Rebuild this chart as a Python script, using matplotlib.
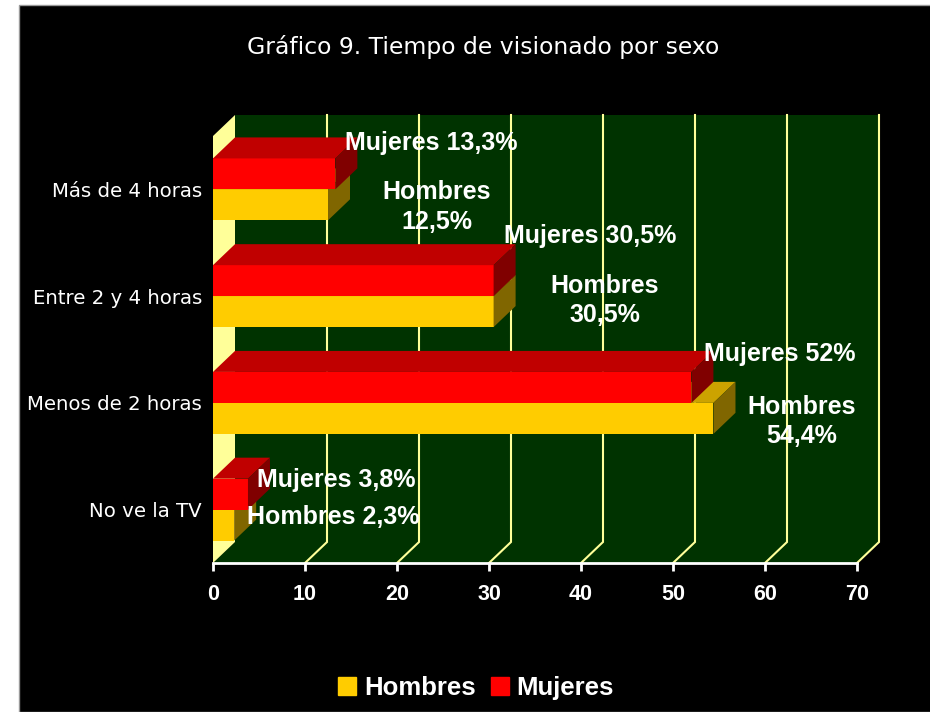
import matplotlib.pyplot as plt
import matplotlib.patches as mpatches
from matplotlib.patches import Polygon, Rectangle

# data (bottom to top)
categories = ["No ve la TV", "Menos de 2 horas", "Entre 2 y 4 horas", "Más de 4 horas"]
hombres = [2.3, 54.4, 30.5, 12.5]
mujeres = [3.8, 52, 30.5, 13.3]
lab_h = ["Hombres 2,3%", "Hombres\n54,4%", "Hombres\n30,5%", "Hombres\n12,5%"]
lab_m = ["Mujeres 3,8%", "Mujeres 52%", "Mujeres 30,5%", "Mujeres 13,3%"]
xticks = [0, 10, 20, 30, 40, 50, 60, 70]

# label offsets from bar end, pixels (x, y up)
off_h = [(99, 8), (88, -3), (111, 11), (109, -2)]
off_m = [(88, 14), (88, 33), (97, 45), (96, 31)]

yellow = ("#FFCC00", "#CCA300", "#806600")  # front, top, side
red = ("#FF0000", "#C00000", "#800000")
wall = "#003300"
grid = "#FFFF99"

fig = plt.figure(figsize=(9.3, 7.12), dpi=100)
fig.patch.set_facecolor("white")
fig.patches.append(Rectangle((19 / 930, 0), 1, 1 - 5 / 712, transform=fig.transFigure,
                             facecolor="black", edgecolor="#999999", lw=1, zorder=-10))

ax = fig.add_axes([213 / 930, (712 - 563) / 712, 644 / 930, 427 / 712])
ax.set_xlim(0, 70)
ax.set_ylim(-0.5, 3.5)
ax.patch.set_visible(False)

ddx, ddy = 22 / 9.2, 21 / 106.75   # depth offset in data units
x0, x1, y0, y1 = 0, 70, -0.5, 3.5

# back wall, floor, left wall
ax.add_patch(Polygon([(x0 + ddx, y0 + ddy), (x1 + ddx, y0 + ddy), (x1 + ddx, y1 + ddy), (x0 + ddx, y1 + ddy)],
                     closed=True, facecolor=wall, edgecolor="none", clip_on=False, zorder=0))
ax.add_patch(Polygon([(x0, y0), (x1, y0), (x1 + ddx, y0 + ddy), (x0 + ddx, y0 + ddy)],
                     closed=True, facecolor=wall, edgecolor="none", clip_on=False, zorder=0))
ax.add_patch(Polygon([(x0, y0), (x0 + ddx, y0 + ddy), (x0 + ddx, y1 + ddy), (x0, y1)],
                     closed=True, facecolor=grid, edgecolor="none", clip_on=False, zorder=1))

for t in xticks[1:]:
    ax.plot([t, t + ddx, t + ddx], [y0, y0 + ddy, y1 + ddy], color=grid, lw=1.5,
            clip_on=False, zorder=1, solid_joinstyle="miter")

bh = 0.29


def bar3d(v, yb, cols, z):
    ax.barh(yb + bh / 2, v, height=bh, color=cols[0], zorder=z)
    yt = yb + bh
    ax.add_patch(Polygon([(0, yt), (v, yt), (v + ddx, yt + ddy), (ddx, yt + ddy)],
                         closed=True, facecolor=cols[1], edgecolor="none", clip_on=False, zorder=z))
    ax.add_patch(Polygon([(v, yb), (v, yt), (v + ddx, yt + ddy), (v + ddx, yb + ddy)],
                         closed=True, facecolor=cols[2], edgecolor="none", clip_on=False, zorder=z))


ypos = list(range(len(categories)))
for i in reversed(ypos):
    z = 3 + (len(categories) - i) * 2
    bar3d(hombres[i], i - bh, yellow, z)
    bar3d(mujeres[i], i, red, z + 1)

lab_font = dict(family="Liberation Sans", weight="bold", size=18, color="white")
for i in ypos:
    ax.annotate(lab_m[i], xy=(mujeres[i], i + bh / 2), xytext=off_m[i], textcoords="offset pixels",
                ha="center", va="center", zorder=20, linespacing=1.3, **lab_font)
    ax.annotate(lab_h[i], xy=(hombres[i], i - bh / 2), xytext=off_h[i], textcoords="offset pixels",
                ha="center", va="center", zorder=20, linespacing=1.3, **lab_font)

# axes styling
for s in ["top", "right", "left"]:
    ax.spines[s].set_visible(False)
ax.spines["bottom"].set_color("white")
ax.spines["bottom"].set_linewidth(2)
ax.spines["bottom"].set_zorder(30)
ax.set_xticks(xticks)
ax.set_xticklabels([str(t) for t in xticks], family="Liberation Sans", weight="bold",
                   size=15.5, color="white")
ax.tick_params(axis="x", colors="white", length=6, width=2, pad=9)
ax.set_yticks(ypos)
ax.set_yticklabels(categories, family="DejaVu Sans", size=14.2, color="white")
ax.tick_params(axis="y", length=0, pad=8)

fig.text(483 / 930, 1 - 47 / 712, "Gráfico 9. Tiempo de visionado por sexo", family="DejaVu Sans",
         size=16.9, color="white", ha="center", va="center")

handles = [mpatches.Patch(color=yellow[0], label="Hombres"), mpatches.Patch(color=red[0], label="Mujeres")]
leg = fig.legend(handles=handles, loc="center", bbox_to_anchor=(0.512, 1 - 688 / 712), ncol=2,
                 frameon=False, handlelength=0.7, handleheight=0.7, handletextpad=0.3,
                 columnspacing=0.6, prop=dict(family="Liberation Sans", weight="bold", size=18.5))
for t in leg.get_texts():
    t.set_color("white")

fig.savefig("out.png", dpi=100, facecolor=fig.get_facecolor())
